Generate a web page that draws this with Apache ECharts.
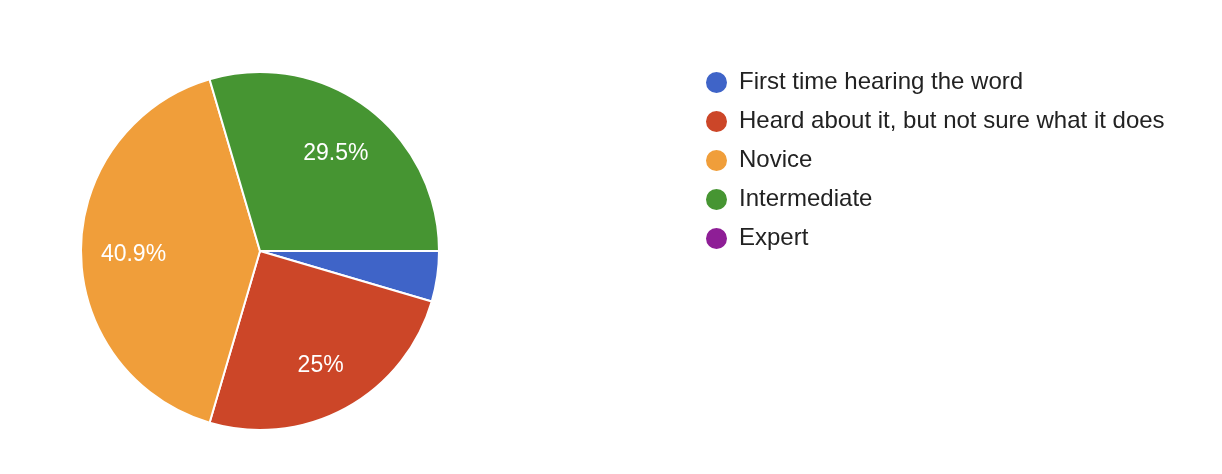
<!DOCTYPE html>
<html>
<head>
<meta charset="utf-8">
<script src="https://cdn.jsdelivr.net/npm/echarts@6/dist/echarts.min.js"></script>
<style>
  html, body { margin: 0; padding: 0; background: #fff; }
  #chart { width: 1222px; height: 474px; }
</style>
</head>
<body>
<div id="chart"></div>
<script>
// response counts (44 total)
var categories = [
  'First time hearing the word',
  'Heard about it, but not sure what it does',
  'Novice',
  'Intermediate',
  'Expert'
];
var counts = [2, 11, 18, 13, 0];
var colors = ['#3f64c8', '#cc4628', '#f09e3a', '#469532', '#8e1e96'];

var total = counts.reduce(function (a, b) { return a + b; }, 0);
var pieData = categories.map(function (name, i) {
  return { name: name, value: counts[i], itemStyle: { color: colors[i] } };
});

function pctLabel(p) {
  // hide labels of tiny slices
  if (p.value / total < 0.1) return '';
  var v = Math.round(p.value / total * 1000) / 10;
  return v + '%';
}

var chart = echarts.init(document.getElementById('chart'));
chart.setOption({
  animation: false,
  color: colors,
  legend: {
    orient: 'vertical',
    left: 699,
    top: 65,
    itemWidth: 23,
    itemHeight: 23,
    itemGap: 14,
    icon: 'circle',
    selectedMode: false,
    textStyle: {
      fontFamily: 'Liberation Sans, Arial, sans-serif',
      fontSize: 24,
      color: '#222',
      padding: [0, 0, 0, 6]
    },
    data: categories
  },
  series: [
    {
      name: 'slices',
      type: 'pie',
      center: [260, 251],
      radius: [0, 179],
      startAngle: 0,
      clockwise: true,
      silent: true,
      label: { show: false },
      labelLine: { show: false },
      itemStyle: { borderColor: '#fff', borderWidth: 2 },
      data: pieData
    },
    {
      // transparent ring only used to place labels further out
      name: 'labels',
      type: 'pie',
      center: [260, 251],
      radius: [68, 179],
      startAngle: 0,
      clockwise: true,
      silent: true,
      itemStyle: { color: 'rgba(0,0,0,0)', borderWidth: 0 },
      label: {
        show: true,
        position: 'inside',
        formatter: pctLabel,
        color: '#fff',
        fontFamily: 'Liberation Sans, Arial, sans-serif',
        fontSize: 23,
        offset: [0, 4]
      },
      labelLine: { show: false },
      data: categories.map(function (name, i) {
        return { name: name, value: counts[i] };
      })
    }
  ]
});
</script>
</body>
</html>
